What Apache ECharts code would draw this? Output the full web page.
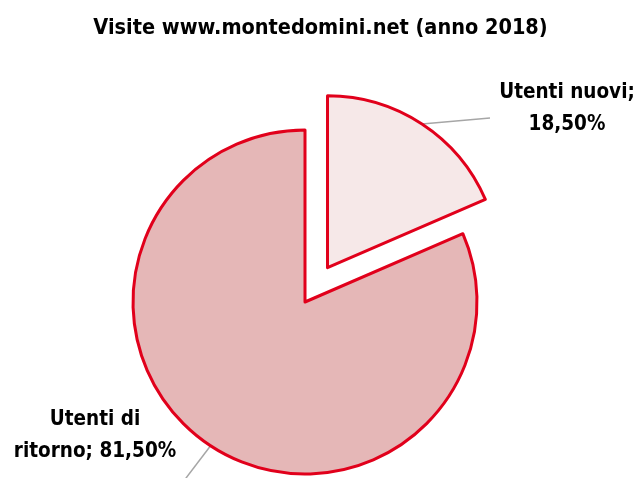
<!DOCTYPE html>
<html>
<head>
<meta charset="utf-8">
<script src="https://cdn.jsdelivr.net/npm/echarts@6/dist/echarts.min.js"></script>
<style>
html,body{margin:0;padding:0;background:#fff;}
#chart{width:641px;height:478px;}
</style>
</head>
<body>
<div id="chart"></div>
<script>
var titleText = 'Visite www.montedomini.net (anno 2018)';
var categories = ['Utenti nuovi', 'Utenti di ritorno'];
var values = [18.5, 81.5];
var labelTexts = ['Utenti nuovi;\n18,50%', 'Utenti di\nritorno; 81,50%'];
var fillColors = ['#f6e8e8', '#e5b7b7'];
var explodedIndex = 0;

var FONT = "'DejaVu Sans Condensed', 'Liberation Sans Narrow', sans-serif";
var BORDER = '#e1001b';
var cx = 305, cy = 302, R = 172, OFFSET = 41;

var total = values.reduce(function (a, b) { return a + b; }, 0);
function midAngle(i) {
  var s = 0;
  for (var k = 0; k < i; k++) s += values[k];
  return ((s + values[i] / 2) / total) * 2 * Math.PI; // clockwise from 12 o'clock
}
function offsetVec(i) {
  if (i !== explodedIndex) return [0, 0];
  var a = midAngle(i);
  return [Math.sin(a) * OFFSET, -Math.cos(a) * OFFSET];
}
function arcPoint(i) {
  var a = midAngle(i), o = offsetVec(i);
  return [cx + o[0] + Math.sin(a) * R, cy + o[1] - Math.cos(a) * R];
}
// label centre x, y ; label line end x, y (page coordinates)
var labelPos = [[567, 109, 490, 118], [95, 436, 183, 482]];

function buildSeries(showIdx) {
  var o = offsetVec(showIdx[0]);
  return {
    type: 'pie',
    center: [cx + o[0], cy + o[1]],
    radius: R,
    startAngle: 90,
    clockwise: true,
    avoidLabelOverlap: false,
    emphasis: {disabled: true},
    silent: true,
    data: categories.map(function (c, i) {
      var vis = showIdx.indexOf(i) >= 0;
      return {
        name: c, value: values[i],
        itemStyle: vis ? {color: fillColors[i], borderColor: BORDER, borderWidth: 3}
                       : {color: 'rgba(0,0,0,0)', borderWidth: 0},
        label: {show: vis},
        labelLine: {show: vis}
      };
    }),
    label: {
      position: 'outside',
      overflow: 'none',
      formatter: function (p) { return labelTexts[p.dataIndex]; },
      fontFamily: FONT, fontSize: 20.5, fontWeight: 'bold', color: '#000',
      lineHeight: 32, align: 'center'
    },
    labelLine: {length: 10, length2: 10, lineStyle: {color: '#a6a6a6', width: 1.5}},
    labelLayout: function (p) {
      var i = p.dataIndex;
      var lp = labelPos[i];
      var end = [lp[2], lp[3]];
      return {
        x: lp[0], y: lp[1], align: 'center', verticalAlign: 'middle',
        labelLinePoints: [arcPoint(i), end, end]
      };
    }
  };
}

var others = [];
for (var k = 0; k < values.length; k++) if (k !== explodedIndex) others.push(k);

var chart = echarts.init(document.getElementById('chart'), null, {renderer: 'canvas'});
chart.setOption({
  animation: false,
  title: {
    text: titleText,
    left: 'center', top: 12,
    textStyle: {fontFamily: FONT, fontWeight: 'bold', fontSize: 21.5, color: '#000'}
  },
  series: [buildSeries(others), buildSeries([explodedIndex])]
});
</script>
</body>
</html>
